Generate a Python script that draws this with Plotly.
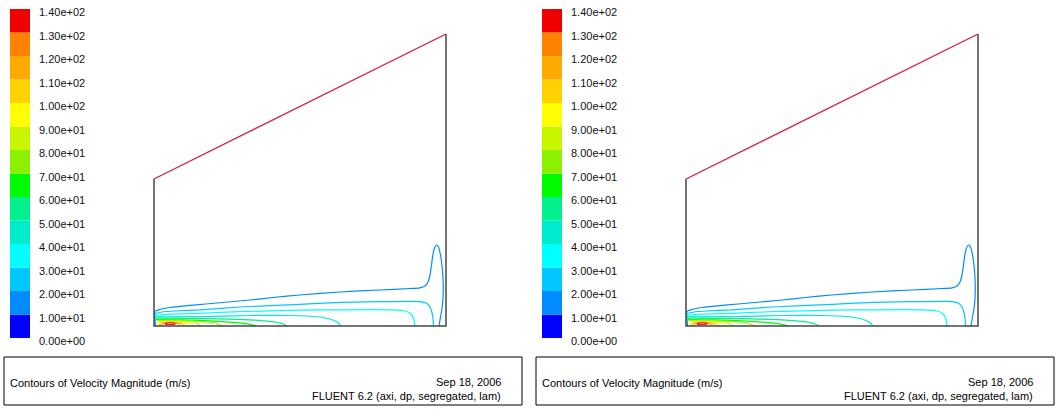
import plotly.graph_objects as go

# ---------------------------------------------------------------------------
# Data
# ---------------------------------------------------------------------------
# Contour levels of velocity magnitude (m/s) and the colour of each band
levels = [0, 10, 20, 30, 40, 50, 60, 70, 80, 90, 100, 110, 120, 130, 140]
band_colors = [
    "rgb(0,0,255)", "rgb(0,140,255)", "rgb(0,200,255)", "rgb(0,255,255)",
    "rgb(0,235,205)", "rgb(0,240,140)", "rgb(0,250,0)", "rgb(140,240,0)",
    "rgb(200,245,0)", "rgb(255,255,0)", "rgb(255,210,0)", "rgb(255,170,0)",
    "rgb(255,130,0)", "rgb(240,0,0)",
]
tick_labels = [f"{v:.2e}" for v in levels]

# Domain outline (mm): axis/inlet/outlet walls and the slanted far-field edge
wall_x = [0, 0, 292, 292]
wall_y = [147, 0, 0, 292]
farfield_x = [0, 292]
farfield_y = [147, 292]

# Iso-velocity lines (x, y in mm)
iso_10 = [(1.5, 0), (1, 8), (1, 14.5), (6, 16.5), (16, 18.5), (31, 20.2), (52, 22),
          (96, 26), (119, 28.5), (146, 31), (186, 34), (226, 36), (256, 37.5),
          (266, 38.2), (271, 40), (274, 44), (276, 51), (277.5, 61), (279, 72),
          (280.5, 78), (282.5, 81), (284.5, 79), (286.5, 71), (288.3, 58),
          (289.2, 43), (289, 28), (287.8, 16), (286.3, 8), (285, 0)]
iso_20 = [(1, 12.5), (8, 14), (21, 15), (46, 16.2), (86, 19), (146, 21.7),
          (186, 23.7), (226, 24.4), (259, 24.7), (268, 24.2), (273, 22.5),
          (276.5, 18), (278.3, 12), (279.2, 6), (279.5, 0)]
iso_30 = [(1, 10.7), (16, 11.8), (46, 12.7), (86, 14.3), (146, 15.8), (186, 16.2),
          (236, 16.2), (249, 15.5), (256, 13), (259.5, 8), (261, 0)]
iso_40 = [(1, 9.2), (46, 9.4), (96, 10.5), (136, 10.5), (161, 9.5), (176, 7),
          (184, 3.5), (187, 0)]
iso_50 = [(1.5, 7.8), (29, 7.7), (66, 7.2), (96, 6.2), (116, 4.7), (128, 2.5),
          (133, 0)]
iso_60 = [(2, 6.5), (29, 6.2), (56, 5.2), (79, 3.6), (96, 1.7), (102, 0)]
iso_70 = [(2.5, 5.7), (23, 5.5), (46, 4.7), (61, 3), (69, 0)]
iso_80 = [(3.5, 5), (26, 4.8), (41, 3.4), (48, 0)]
iso_90 = [(4, 0), (4.5, 3.5), (8, 4.4), (24, 4.4), (34, 3), (39, 0)]
iso_100 = [(5.5, 0), (6, 3), (10, 3.9), (23, 3.9), (31, 2.4), (34, 0)]
iso_110 = [(6.5, 0), (7.5, 2.8), (12, 3.5), (22, 3.5), (28, 2), (30, 0)]
iso_120 = [(8, 0), (9, 2.5), (14, 3.1), (21, 3), (25, 1.7), (26.5, 0)]
iso_130 = [(11, 2.3), (16, 3.2), (21, 2.6), (21.5, 1.9), (16, 1.4), (11, 1.7), (11, 2.3)]

# Caption box text
caption_left = "Contours of Velocity Magnitude (m/s)"
caption_date = "Sep 18, 2006"
caption_solver = "FLUENT 6.2 (axi, dp, segregated, lam)"

# ---------------------------------------------------------------------------
# Figure
# ---------------------------------------------------------------------------
W, H = 1056, 411
PANEL_SHIFT = 532  # horizontal distance between the two identical panels (px)

iso_lines = {10: iso_10, 20: iso_20, 30: iso_30, 40: iso_40, 50: iso_50,
             60: iso_60, 70: iso_70, 80: iso_80, 90: iso_90, 100: iso_100,
             110: iso_110, 120: iso_120, 130: iso_130}

FONT = "Liberation Sans, Arial, Helvetica, sans-serif"

fig = go.Figure()
annotations = []
shapes = []


def paper_x(px):
    return px / W


def paper_y(py):
    return 1 - py / H


def add_panel(idx):
    dom_x = "x" if idx == 0 else "x2"
    dom_y = "y" if idx == 0 else "y2"
    bar_x = "x3" if idx == 0 else "x4"
    bar_y = "y3" if idx == 0 else "y4"
    shift = idx * PANEL_SHIFT

    # Colour legend blocks
    fig.add_trace(go.Bar(
        x=[20] * (len(levels) - 1), y=[levels[i + 1] - levels[i] for i in range(len(levels) - 1)],
        base=levels[:-1], width=20, marker=dict(color=band_colors, line=dict(width=0)),
        xaxis=bar_x, yaxis=bar_y, hoverinfo="skip", showlegend=False,
    ))
    for v, lab in zip(levels, tick_labels):
        annotations.append(dict(
            x=37, y=v, xref=bar_x, yref=bar_y, text=lab, showarrow=False,
            xanchor="left", yanchor="middle", yshift=-3,
            font=dict(family=FONT, size=11, color="#111"),
        ))

    # Iso-velocity lines
    for lev, pts in iso_lines.items():
        k = levels.index(lev)
        fig.add_trace(go.Scatter(
            x=[p[0] for p in pts], y=[p[1] for p in pts], mode="lines",
            line=dict(color=band_colors[k], width=1.2 if lev < 90 else 1.0,
                      shape="spline", smoothing=0.6),
            xaxis=dom_x, yaxis=dom_y, hoverinfo="skip", showlegend=False,
        ))

    # Domain boundaries
    fig.add_trace(go.Scatter(
        x=wall_x, y=wall_y, mode="lines", line=dict(color="rgb(70,70,70)", width=1.5),
        xaxis=dom_x, yaxis=dom_y, hoverinfo="skip", showlegend=False,
    ))
    fig.add_trace(go.Scatter(
        x=farfield_x, y=farfield_y, mode="lines", line=dict(color="rgb(215,30,60)", width=1.3),
        xaxis=dom_x, yaxis=dom_y, hoverinfo="skip", showlegend=False,
    ))

    # Caption box
    shapes.append(dict(
        type="rect", xref="paper", yref="paper",
        x0=paper_x(4 + shift), x1=paper_x(522 + shift),
        y0=paper_y(405), y1=paper_y(357),
        line=dict(color="#000", width=1), fillcolor="rgba(0,0,0,0)",
    ))
    annotations.append(dict(
        x=paper_x(8 + shift), y=paper_y(383), xref="paper", yref="paper",
        text=caption_left, showarrow=False, xanchor="left", yanchor="middle",
        font=dict(family=FONT, size=11, color="#000"),
    ))
    annotations.append(dict(
        x=paper_x(503 + shift), y=paper_y(382), xref="paper", yref="paper",
        text=caption_date, showarrow=False, xanchor="right", yanchor="middle",
        font=dict(family=FONT, size=11, color="#000"),
    ))
    annotations.append(dict(
        x=paper_x(503 + shift), y=paper_y(396), xref="paper", yref="paper",
        text=caption_solver, showarrow=False, xanchor="right", yanchor="middle",
        font=dict(family=FONT, size=11, color="#000"),
    ))


add_panel(0)
add_panel(1)

# Velocity scale: 0 m/s at y=338 px, 140 m/s at y=9 px
px_per_ms = (338 - 9) / (levels[-1] - levels[0])
bar_range = [levels[0] - (H - 338) / px_per_ms, levels[-1] + 9 / px_per_ms]
# Domain scale: 1 mm per px, axis (y=0) at y=326 px
dom_y_range = [-(H - 326), 326]

hidden = dict(visible=False, fixedrange=True)
fig.update_layout(
    width=W, height=H, margin=dict(l=0, r=0, t=0, b=0),
    paper_bgcolor="white", plot_bgcolor="rgba(0,0,0,0)",
    showlegend=False, barmode="overlay",
    xaxis=dict(domain=[0, 0.5], range=[-154, 528 - 154], **hidden),
    yaxis=dict(domain=[0, 1], range=dom_y_range, **hidden),
    xaxis2=dict(domain=[0.5, 1], range=[-158, 528 - 158], **hidden),
    yaxis2=dict(domain=[0, 1], range=dom_y_range, anchor="x2", **hidden),
    xaxis3=dict(domain=[0, 0.5], range=[0, 528], anchor="y3", **hidden),
    yaxis3=dict(domain=[0, 1], range=bar_range, anchor="x3", **hidden),
    xaxis4=dict(domain=[0.5, 1], range=[-4, 524], anchor="y4", **hidden),
    yaxis4=dict(domain=[0, 1], range=bar_range, anchor="x4", **hidden),
    annotations=annotations, shapes=shapes,
)

fig.write_html("out.html")
